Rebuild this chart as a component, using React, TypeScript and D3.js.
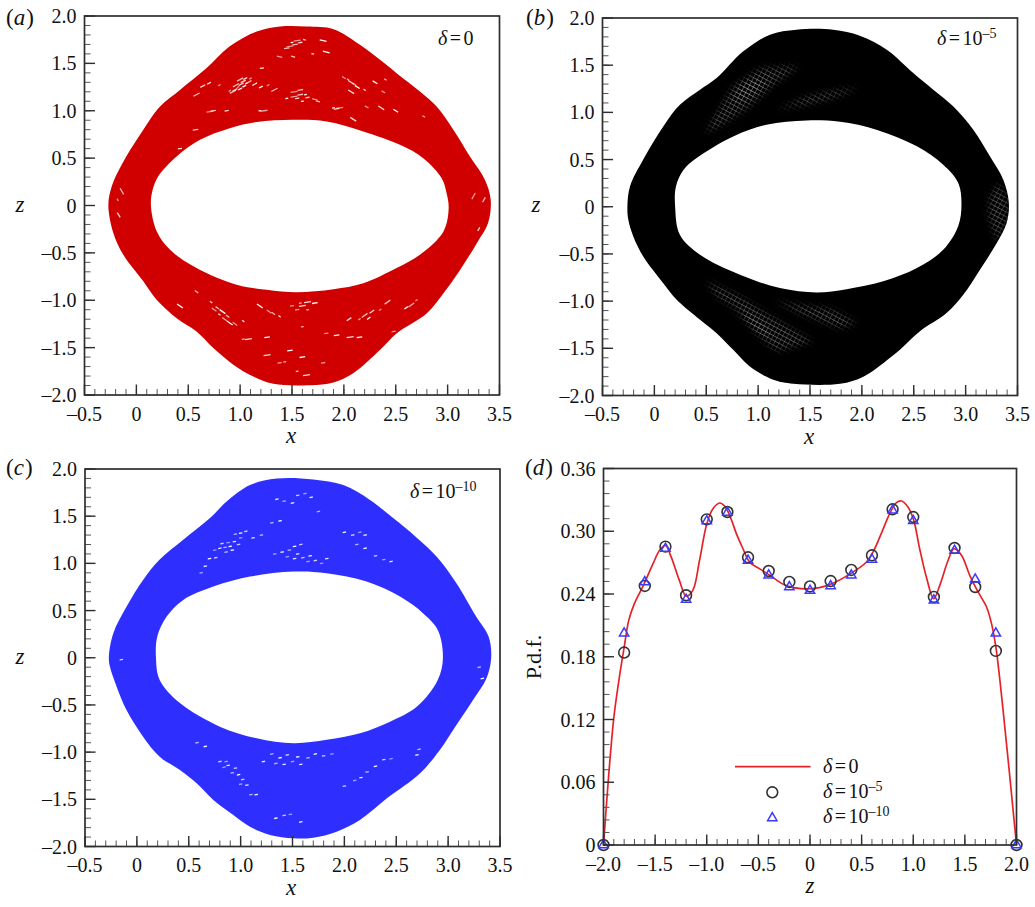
import React from "react";
import * as d3 from "d3";

type P = [number, number];

// ---------- panel (a) boundaries ----------
const outerA: P[] = [[-.27,0],[-.238,.2],[-.142,.43],[.035,.746],[.228,1.045],[.42,1.22],[.677,1.45],[.9,1.68],[1.16,1.836],[1.384,1.889],[1.64,1.889],[1.9,1.861],[2.155,1.696],[2.348,1.537],[2.508,1.397],[2.733,1.203],[2.894,1.045],[3.055,.8],[3.215,.517],[3.36,.27],[3.415,.06],[3.39,-.186],[3.28,-.4],[3.12,-.68],[2.96,-.925],[2.8,-1.136],[2.51,-1.348],[2.35,-1.523],[2.09,-1.77],[1.9,-1.868],[1.673,-1.896],[1.32,-1.882],[1.127,-1.805],[.934,-1.68],[.742,-1.505],[.58,-1.33],[.388,-1.19],[.195,-.996],[.067,-.8],[-.126,-.52],[-.222,-.29]];
const innerA: P[] = [[.14,0],[.157,.165],[.21,.306],[.388,.517],[.613,.693],[.9,.816],[1.16,.88],[1.51,.904],[1.834,.887],[2.187,.781],[2.54,.64],[2.765,.5],[2.943,.288],[2.99,.13],[3.01,-.03],[2.96,-.274],[2.733,-.52],[2.508,-.66],[2.187,-.82],[1.9,-.883],[1.545,-.915],[1.255,-.89],[.967,-.837],[.58,-.66],[.325,-.468],[.197,-.274]];

// ---------- panel (b) ----------
const outerB: P[] = [[-.26,0],[-.235,.215],[-.107,.5],[.086,.85],[.246,1.08],[.44,1.24],[.6,1.364],[.857,1.647],[1.114,1.823],[1.37,1.876],[1.724,1.876],[1.98,1.813],[2.24,1.664],[2.495,1.417],[2.688,1.24],[2.88,1.064],[3.074,.816],[3.234,.534],[3.363,.286],[3.417,.04],[3.395,-.173],[3.3,-.385],[3.138,-.668],[2.977,-.933],[2.816,-1.127],[2.56,-1.32],[2.367,-1.516],[2.206,-1.657],[2.014,-1.8],[1.79,-1.876],[1.339,-1.876],[1.146,-1.834],[.92,-1.693],[.76,-1.516],[.6,-1.34],[.44,-1.198],[.215,-.986],[.086,-.81],[-.107,-.527],[-.203,-.314],[-.251,-.138]];
const innerB: P[] = [[.2,0],[.208,.215],[.28,.39],[.407,.516],[.76,.745],[1.08,.87],[1.467,.915],[1.79,.9],[2.14,.816],[2.53,.64],[2.784,.445],[2.93,.25],[2.96,.03],[2.93,-.2],[2.784,-.456],[2.53,-.65],[2.206,-.79],[1.853,-.873],[1.564,-.908],[1.21,-.862],[.825,-.72],[.44,-.509],[.246,-.297]];

// ---------- panel (c) ----------
const outerC: P[] = [[-.27,.01],[-.227,.26],[-.1,.54],[.06,.825],[.22,1.04],[.447,1.25],[.705,1.48],[.865,1.655],[1.09,1.83],[1.35,1.9],[1.7,1.89],[1.99,1.83],[2.25,1.67],[2.47,1.48],[2.7,1.27],[2.89,1.07],[3.08,.79],[3.27,.436],[3.39,.224],[3.415,0],[3.37,-.217],[3.24,-.447],[3.08,-.712],[2.92,-.977],[2.73,-1.224],[2.41,-1.49],[2.15,-1.719],[1.925,-1.843],[1.7,-1.906],[1.51,-1.913],[1.283,-1.878],[1.09,-1.79],[.93,-1.666],[.737,-1.507],[.576,-1.33],[.415,-1.19],[.22,-1.048],[.06,-.836],[-.1,-.553],[-.195,-.306],[-.26,-.094]];
const innerC: P[] = [[.184,0],[.197,.224],[.287,.436],[.447,.613],[.737,.754],[1.09,.86],[1.51,.913],[1.83,.896],[2.214,.807],[2.536,.648],[2.76,.47],[2.9,.295],[2.95,.0],[2.9,-.235],[2.7,-.517],[2.44,-.677],[2.15,-.8],[1.83,-.87],[1.51,-.906],[1.155,-.853],[.8,-.73],[.415,-.48],[.22,-.235]];

// ---------- gaps in the trajectory mesh, panel (a): [angle in degrees, points] ----------
const gapsA: [number, P[]][] = [
  [-28, [[.9,1.21],[.93,1.2],[.95,1.22],[1.0,1.23],[.98,1.25],[.96,1.27],[1.01,1.28],[1.04,1.26],[1.06,1.29],[1.0,1.33],[1.03,1.31],[1.05,1.34],[1.1,1.34],[1.08,1.3],[1.14,1.28],[1.2,1.25],[1.27,1.27],[1.33,1.22],[.64,1.26],[.7,1.29],[.8,1.27],[.58,1.17]]],
  [-8, [[.71,.99],[.74,1.0],[.87,1.0],[1.19,1.0],[1.23,1.0],[.57,.8],[.42,.6],[1.45,1.13],[1.52,1.15],[1.58,1.17],[1.65,1.14],[1.6,1.1],[1.52,1.2],[1.58,1.22],[1.55,1.13],[1.63,1.17],[1.48,1.68],[1.53,1.7],[1.58,1.72],[1.5,1.72],[1.55,1.74],[1.45,1.66],[1.21,1.45],[1.9,1.03],[1.96,1.03],[1.93,1.02]]],
  [14, [[1.72,1.12],[1.75,1.1],[1.62,1.75],[1.8,1.74],[1.38,1.57],[1.51,1.57],[1.7,1.6],[1.83,1.62]]],
  [32, [[2.0,1.35],[2.04,1.33],[2.07,1.3],[2.13,1.25],[2.1,1.28],[2.2,1.22],[2.07,1.2],[2.3,1.3],[2.38,1.2],[2.4,1.33],[2.36,1.03],[2.5,1.0],[2.22,1.04],[2.77,.94],[2.09,.91]]],
  [60, [[-.18,.06],[-.14,.15],[-.17,-.1]]],
  [-60, [[3.25,.1],[3.35,.06],[3.3,-.25]]],
  [35, [[.75,-1.1],[.78,-1.08],[.8,-1.15],[.83,-1.12],[.85,-1.2],[.88,-1.17],[.72,-1.02],[.9,-1.24],[.95,-1.25],[.58,-.91],[1.03,-1.22],[.42,-1.06],[1.28,-1.12],[1.32,-1.14],[1.38,-1.17],[1.19,-1.06]]],
  [-8, [[1.5,-1.06],[1.58,-1.03],[1.65,-1.02],[1.72,-1.03],[1.55,-1.1],[1.65,-1.1],[1.6,-1.06],[1.93,-1.37],[1.83,-1.35],[1.6,-1.28],[2.06,-1.39],[2.15,-1.39],[2.48,-1.33],[1.03,-1.41],[1.08,-1.41],[1.26,-1.39],[1.38,-1.66],[1.43,-1.65],[1.26,-1.58],[1.6,-1.6],[1.8,-1.66],[1.55,-1.75],[1.64,-1.79],[1.48,-1.53]]],
  [-35, [[2.15,-1.2],[2.2,-1.16],[2.27,-1.12],[2.24,-1.19],[2.35,-1.1],[2.42,-1.02],[2.05,-1.2],[2.6,-1.08],[2.7,-1.0],[2.65,-1.05]]],
];

// ---------- gaps, panel (c): mostly short dots ----------
const gapsC: P[] = [[.75,1.14],[.8,1.16],[.85,1.17],[.9,1.18],[.82,1.21],[.88,1.22],[.94,1.23],[.95,1.31],[1.0,1.32],[1.05,1.34],[1.0,1.27],[1.12,1.27],[1.2,1.3],[.7,1.05],[.76,1.06],[.62,.9],[.66,.97],[.86,1.12],[.92,1.14],[.98,1.2],
  [1.33,1.1],[1.4,1.12],[1.47,1.14],[1.52,1.18],[1.58,1.2],[1.45,1.07],[1.52,1.05],[1.6,1.06],[1.67,1.08],[1.72,1.03],[1.78,1.0],[1.83,1.05],[1.3,1.43],[1.38,1.45],[1.55,1.1],[1.65,1.02],
  [1.35,1.68],[1.42,1.66],[1.5,1.64],[1.55,1.72],[1.62,1.74],[1.68,1.7],[1.75,1.55],
  [2.0,1.33],[2.08,1.3],[2.15,1.33],[2.2,1.3],[2.12,1.2],[2.2,1.16],[2.3,1.08],[2.38,1.04],[2.45,1.02],
  [.58,-.9],[.66,-.94],[.8,-1.1],[.84,-1.16],[.88,-1.14],[.92,-1.22],[.98,-1.24],[1.02,-1.29],[1.0,-1.34],[1.06,-1.35],[1.1,-1.45],[1.15,-1.45],[.95,-1.17],[.86,-1.1],
  [1.22,-1.1],[1.3,-1.02],[1.38,-1.06],[1.45,-1.03],[1.5,-1.1],[1.58,-1.13],[1.65,-1.06],[1.72,-1.02],[1.8,-1.04],[1.88,-1.02],[1.42,-1.13],[1.34,-1.12],[1.55,-1.05],
  [2.0,-1.36],[2.1,-1.3],[2.16,-1.27],[2.22,-1.21],[2.3,-1.15],[2.38,-1.08],[2.45,-1.07],[2.7,-1.03],[2.72,-.97],
  [1.34,-1.7],[1.42,-1.67],[1.48,-1.66],[1.58,-1.74],
  [3.3,-.1],[3.33,-.22],[-.15,-.02]];

// ---------- lattice regions, panel (b) ----------
const latticeB: P[][] = [
  [[.488,.78],[.6,.99],[.76,1.28],[1.02,1.47],[1.4,1.49],[1.15,1.29],[.92,1.06],[.63,.85]],
  [[1.18,1.03],[1.47,1.17],[1.79,1.24],[1.98,1.26],[1.72,1.15],[1.47,1.08]],
  [[3.23,.11],[3.32,.25],[3.41,.07],[3.41,-.1],[3.38,-.2],[3.3,-.38],[3.22,-.1]],
  [[.5,-.79],[.6,-.95],[.86,-1.13],[1.08,-1.45],[1.18,-1.53],[1.53,-1.43],[1.34,-1.3],[1.08,-1.13],[.83,-.95],[.63,-.85]],
  [[1.15,-.99],[1.4,-1.13],[1.79,-1.29],[1.95,-1.23],[1.72,-1.09],[1.27,-1.02]],
];
const latticeBright: P[][] = [
  [[.76,1.1],[.83,1.28],[.985,1.35],[1.08,1.33],[.92,1.17]],
  [[.73,-1.09],[.83,-1.14],[.99,-1.34],[1.15,-1.37],[.92,-1.16]],
];

// ---------- panel (d) ----------
const pdfZ = [-2,-1.903,-1.85,-1.8,-1.755,-1.7,-1.61,-1.52,-1.455,-1.4,-1.345,-1.265,-1.2,-1.135,-1.07,-1,-.94,-.875,-.826,-.777,-.713,-.65,-.585,-.487,-.39,-.23,0,.19,.385,.547,.61,.69,.772,.837,.886,.95,1.005,1.062,1.127,1.198,1.257,1.337,1.395,1.467,1.547,1.628,1.71,1.758,1.8,1.87,2];
const pdfLine = [0,.119,.158,.189,.215,.231,.249,.269,.282,.2865,.2755,.253,.238,.2435,.272,.307,.3215,.327,.324,.315,.2977,.2835,.2705,.264,.258,.248,.245,.249,.259,.2706,.28,.2977,.3168,.3273,.3289,.323,.3104,.2833,.2563,.2356,.2483,.272,.2833,.277,.2579,.242,.2276,.2117,.1894,.129,0];
const markZ = [-2,-1.8,-1.6,-1.4,-1.2,-1,-.8,-.6,-.4,-.2,0,.2,.4,.6,.8,1,1.2,1.4,1.6,1.8,2];
const circles = [0,.184,.2477,.2853,.2388,.3114,.3184,.2751,.262,.2515,.2472,.2524,.263,.277,.321,.3136,.2372,.284,.2467,.1856,0];
const triangles = [0,.2025,.2515,.2834,.2347,.3097,.318,.272,.258,.2467,.2433,.2477,.258,.273,.32,.31,.234,.2815,.254,.2025,0];

const xTicks = [-.5,0,.5,1,1.5,2,2.5,3,3.5];
const zTicks = [-2,-1.5,-1,-.5,0,.5,1,1.5,2];
const pdfTicks = [0,.06,.12,.18,.24,.3,.36];
const dMinorX = d3.range(-20, 21).map((v) => v / 10);
const aMinorX = d3.range(-5, 36).map((v) => v / 10);
const aMinorZ = d3.range(-20, 21).map((v) => v / 10);
const dMinorY = d3.range(0, 31).map((v) => (v * 12) / 1000);

const SERIF = "'Liberation Serif','Times New Roman',serif";
const INK = "#2e2e2e";
const fmt1 = (v: number) => (v === 0 ? "0" : (v < 0 ? "–" : "") + Math.abs(v).toFixed(1));
const fmt2 = (v: number) => (v === 0 ? "0" : v.toFixed(2));

type Box = { l: number; r: number; t: number; b: number };

function Frame({ box, xs, ys, xMaj, yMaj, xMin, yMin, fx, fy, xName, yName, xLabelX }: any) {
  const { l, r, t, b } = box as Box;
  return (
    <g>
      {xMin.map((v: number) => (
        <line key={"xm" + v} x1={xs(v)} x2={xs(v)} y1={b} y2={b - 6} stroke="#555" strokeWidth={1} />
      ))}
      {yMin.map((v: number) => (
        <line key={"ym" + v} x1={l} x2={l + 6} y1={ys(v)} y2={ys(v)} stroke="#555" strokeWidth={1} />
      ))}
      {xMaj.map((v: number) => (
        <line key={"xM" + v} x1={xs(v)} x2={xs(v)} y1={b} y2={b - 10.5} stroke={INK} strokeWidth={1.4} />
      ))}
      {yMaj.map((v: number) => (
        <line key={"yM" + v} x1={l} x2={l + 10.5} y1={ys(v)} y2={ys(v)} stroke={INK} strokeWidth={1.4} />
      ))}
      <rect x={l} y={t} width={r - l} height={b - t} fill="none" stroke={INK} strokeWidth={1.7} />
      {xMaj.map((v: number) => (
        <text key={"xl" + v} x={xs(v)} y={b + 25.5} textAnchor="middle" fontSize={20} fontFamily={SERIF} fill="#111">
          {fx(v)}
        </text>
      ))}
      {yMaj.map((v: number) => (
        <text key={"yl" + v} x={l - 8} y={ys(v) + 7} textAnchor="end" fontSize={20} fontFamily={SERIF} fill="#111">
          {fy(v)}
        </text>
      ))}
      <text x={xLabelX} y={b + 48} textAnchor="middle" fontSize={23} fontStyle="italic" fontFamily={SERIF} fill="#111">
        {xName}
      </text>
      {yName}
    </g>
  );
}

function Delta({ x, y, exp, val }: { x: number; y: number; exp?: string; val: string }) {
  return (
    <text x={x} y={y} fontSize={20} fontFamily={SERIF} fill="#111">
      <tspan fontStyle="italic">δ</tspan>
      <tspan dx={2.5}>=</tspan>
      <tspan dx={2.5}>{val}</tspan>
      {exp && (
        <tspan dy={-7} fontSize={14}>
          {exp}
        </tspan>
      )}
    </text>
  );
}

function PanelTag({ x, y, c }: { x: number; y: number; c: string }) {
  return (
    <text x={x} y={y} fontSize={23} fontFamily={SERIF} fill="#111">
      (<tspan fontStyle="italic">{c}</tspan>
      <tspan dx={1}>)</tspan>
    </text>
  );
}

function Band({ box, outer, inner, color, children }: any) {
  const { l, r, t, b } = box as Box;
  const xs = d3.scaleLinear().domain([-0.5, 3.5]).range([l, r]);
  const ys = d3.scaleLinear().domain([-2, 2]).range([b, t]);
  const closed = d3.line<P>().x((d) => xs(d[0])).y((d) => ys(d[1])).curve(d3.curveCatmullRomClosed.alpha(0.5));
  const d = (closed(outer) || "") + (closed(inner) || "");
  return (
    <g>
      <path d={d} fill={color} fillRule="evenodd" filter="url(#soft)" />
      {children && children(xs, ys)}
    </g>
  );
}

function Panel({ box, tag, tagX, tagY, zX, zY, xLabelX, children }: any) {
  const { l, r, t, b } = box as Box;
  const xs = d3.scaleLinear().domain([-0.5, 3.5]).range([l, r]);
  const ys = d3.scaleLinear().domain([-2, 2]).range([b, t]);
  return (
    <g>
      {children}
      <Frame
        box={box}
        xs={xs}
        ys={ys}
        xMaj={xTicks}
        yMaj={zTicks}
        xMin={aMinorX}
        yMin={aMinorZ}
        fx={fmt1}
        fy={fmt1}
        xName="x"
        xLabelX={xLabelX}
        yName={
          <text x={zX} y={zY} textAnchor="middle" fontSize={23} fontStyle="italic" fontFamily={SERIF} fill="#111">
            z
          </text>
        }
      />
      <PanelTag x={tagX} y={tagY} c={tag} />
    </g>
  );
}

const boxA: Box = { l: 84.5, r: 499.5, t: 16, b: 395 };
const boxB: Box = { l: 602.5, r: 1017.5, t: 18, b: 395.5 };
const boxC: Box = { l: 85, r: 500, t: 469, b: 846.5 };
const boxD: Box = { l: 603.5, r: 1016.5, t: 468.5, b: 845 };

export default function App() {
  const dx = d3.scaleLinear().domain([-2, 2]).range([boxD.l, boxD.r]);
  const dy = d3.scaleLinear().domain([0, 0.36]).range([boxD.b, boxD.t]);
  const pdfPath = d3
    .line<number>()
    .x((_, i) => dx(pdfZ[i]))
    .y((v) => dy(v))
    .curve(d3.curveCatmullRom.alpha(0.5))(pdfLine);
  const tri = d3.symbol().type(d3.symbolTriangle).size(38)() as string;

  return (
    <svg width={1035} height={907} style={{ position: "absolute", left: 0, top: 0, background: "#fff" }}>
      <defs>
        <filter id="soft" x="-5%" y="-5%" width="110%" height="110%">
          <feGaussianBlur stdDeviation="0.45" />
        </filter>
        <filter id="soft2" x="-20%" y="-20%" width="140%" height="140%">
          <feGaussianBlur stdDeviation="0.5" />
        </filter>
        <filter id="feather" x="-30%" y="-30%" width="160%" height="160%">
          <feGaussianBlur stdDeviation="3" />
        </filter>
        <pattern id="hatch" width="4.2" height="4.2" patternUnits="userSpaceOnUse" patternTransform="rotate(28)">
          <path d="M0 0H4.2" stroke="#fff" strokeWidth="0.9" />
          <path d="M0 0V4.2" stroke="#fff" strokeWidth="0.6" />
        </pattern>
      </defs>

      {/* (a) */}
      <Panel box={boxA} tag="a" tagX={6} tagY={25} zX={20} zY={212} xLabelX={291}>
        <Band box={boxA} outer={outerA} inner={innerA} color="#d00000">
          {(xs: any, ys: any) => (
            <g filter="url(#soft2)">
              {gapsA.map(([ang, pts], gi) =>
                pts.map((p, i) => {
                  const len = 1.4 + ((i * 7 + gi * 3) % 4) * 0.7;
                  const a = (ang * Math.PI) / 180;
                  return (
                    <line
                      key={gi + "-" + i}
                      x1={xs(p[0]) - len * Math.cos(a)}
                      y1={ys(p[1]) - len * Math.sin(a)}
                      x2={xs(p[0]) + len * Math.cos(a)}
                      y2={ys(p[1]) + len * Math.sin(a)}
                      stroke="#fff"
                      strokeOpacity={0.6 + ((i * 5) % 4) * 0.13}
                      strokeWidth={1.3}
                    />
                  );
                })
              )}
            </g>
          )}
        </Band>
      </Panel>
      <Delta x={438} y={45} val="0" />

      {/* (b) */}
      <Panel box={boxB} tag="b" tagX={526} tagY={25} zX={536} zY={212} xLabelX={809}>
        <Band box={boxB} outer={outerB} inner={innerB} color="#000">
          {(xs: any, ys: any) => {
            const poly = d3.line<P>().x((d) => xs(d[0])).y((d) => ys(d[1])).curve(d3.curveLinearClosed);
            const { l, r, t, b } = boxB;
            return (
              <g filter="url(#soft2)">
                <mask id="maskB" maskUnits="userSpaceOnUse" x={l} y={t} width={r - l} height={b - t}>
                  <g filter="url(#feather)">
                    {latticeB.map((p, i) => (
                      <path key={i} d={poly(p) || ""} fill="#9a9a9a" />
                    ))}
                    {latticeBright.map((p, i) => (
                      <path key={i} d={poly(p) || ""} fill="#fff" />
                    ))}
                  </g>
                </mask>
                <rect x={l} y={t} width={r - l} height={b - t} fill="url(#hatch)" mask="url(#maskB)" />
              </g>
            );
          }}
        </Band>
      </Panel>
      <Delta x={937} y={45} val="10" exp="–5" />

      {/* (c) */}
      <Panel box={boxC} tag="c" tagX={6} tagY={475} zX={20} zY={664} xLabelX={291}>
        <Band box={boxC} outer={outerC} inner={innerC} color="#2f2fff">
          {(xs: any, ys: any) => (
            <g filter="url(#soft2)">
              {gapsC.map((p, i) => (
                <line
                  key={i}
                  x1={xs(p[0]) - 1.7}
                  x2={xs(p[0]) + 1.7}
                  y1={ys(p[1]) + 0.3}
                  y2={ys(p[1]) - 0.3}
                  stroke="#fff"
                  strokeOpacity={0.55 + ((i * 3) % 5) * 0.11}
                  strokeWidth={1.3}
                />
              ))}
            </g>
          )}
        </Band>
      </Panel>
      <Delta x={410} y={498} val="10" exp="–10" />

      {/* (d) */}
      <g>
        <path d={pdfPath || ""} fill="none" stroke="#e5242a" strokeWidth={1.7} filter="url(#soft2)" />
        {markZ.map((z, i) => (
          <circle key={i} cx={dx(z)} cy={dy(circles[i])} r={5.4} fill="none" stroke="#333" strokeWidth={1.6} />
        ))}
        {markZ.map((z, i) => (
          <path key={i} d={tri} transform={`translate(${dx(z)},${dy(triangles[i])})`} fill="none" stroke="#3a3aff" strokeWidth={1.5} />
        ))}
        <Frame
          box={boxD}
          xs={dx}
          ys={dy}
          xMaj={zTicks}
          yMaj={pdfTicks}
          xMin={dMinorX}
          yMin={dMinorY}
          fx={fmt1}
          fy={fmt2}
          xName="z"
          xLabelX={810}
          yName={
            <text
              transform="translate(541,657) rotate(-90)"
              textAnchor="middle"
              fontSize={22}
              fontFamily={SERIF}
              fill="#111"
            >
              P.d.f.
            </text>
          }
        />
        <PanelTag x={525} y={475} c="d" />
        <line x1={735} x2={810.5} y1={766.7} y2={766.7} stroke="#e5242a" strokeWidth={1.7} />
        <circle cx={772.3} cy={792.3} r={5.4} fill="none" stroke="#333" strokeWidth={1.6} />
        <path d={tri} transform="translate(772.3,818)" fill="none" stroke="#3a3aff" strokeWidth={1.5} />
        <Delta x={823} y={773} val="0" />
        <Delta x={823} y={798} val="10" exp="–5" />
        <Delta x={823} y={823} val="10" exp="–10" />
      </g>
    </svg>
  );
}
